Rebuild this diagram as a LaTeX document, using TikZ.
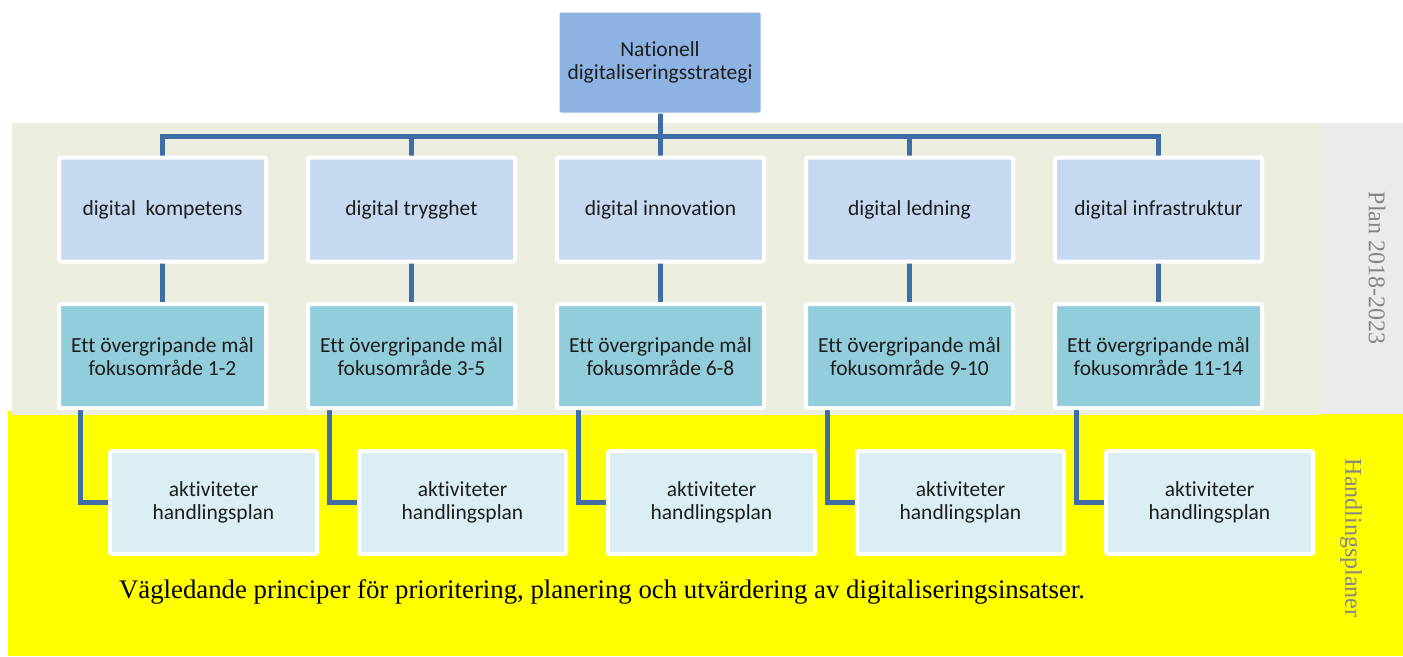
\documentclass[tikz,border=0pt]{standalone}
\usepackage{fontspec}
\setmainfont{Carlito}[RawFeature=-liga]
\newfontfamily\timesfont{Liberation Serif}
\definecolor{topc}{HTML}{8DB3E2}
\definecolor{lvtwo}{HTML}{C6D9F1}
\definecolor{lvthree}{HTML}{92CDDC}
\definecolor{lvfour}{HTML}{DAEEF3}
\definecolor{band}{HTML}{EBEEDF}
\definecolor{rband}{HTML}{EBEBEB}
\definecolor{yel}{HTML}{FFFF00}
\definecolor{conn}{HTML}{3F6DA5}
\definecolor{txt}{HTML}{1E1E1E}
\definecolor{lbl}{HTML}{858585}
\pgfdeclarelayer{bg}
\pgfdeclarelayer{cn}
\pgfsetlayers{bg,cn,main}
\begin{document}
\begin{tikzpicture}[x=1pt,y=-1pt,
  box/.style={draw=white,line width=4pt,rounded corners=2pt,inner sep=0pt,outer sep=0pt,
    minimum width=207pt,minimum height=104pt,align=center,text=txt,
    font=\fontsize{21.5}{23}\selectfont},
  topbox/.style={box,fill=topc,minimum width=202pt,minimum height=101pt,line width=1pt},
  twobox/.style={box,fill=lvtwo},
  threebox/.style={box,fill=lvthree},
  fourbox/.style={box,fill=lvfour,minimum width=207pt,minimum height=103pt},
  link/.style={draw=conn,line width=5pt},
  sidelbl/.style={rotate=-90,text=lbl,font=\timesfont\fontsize{24}{26}\selectfont}
]
\useasboundingbox (0,0) rectangle (1403,656);
\begin{pgfonlayer}{bg}
  \fill[yel] (8,411) rectangle (1403,656);
  \fill[band] (12,123) rectangle (1319,415);
  \fill[rband] (1319,123) rectangle (1403,414);
\end{pgfonlayer}

\node[topbox] (top) at (660,62.5) {Nationell\\digitaliseringsstrategi};
\coordinate (bus) at (660,136);

\node[twobox] (l2a) at (162.5,209.5) {digital~~kompetens};
\node[twobox] (l2b) at (411.5,209.5) {digital trygghet};
\node[twobox] (l2c) at (660.5,209.5) {digital innovation};
\node[twobox] (l2d) at (909.5,209.5) {digital ledning};
\node[twobox] (l2e) at (1158.5,209.5) {digital infrastruktur};

\node[threebox] (l3a) at (162.5,356) {Ett övergripande mål\\fokusområde 1-2};
\node[threebox] (l3b) at (411.5,356) {Ett övergripande mål\\fokusområde 3-5};
\node[threebox] (l3c) at (660.5,356) {Ett övergripande mål\\fokusområde 6-8};
\node[threebox] (l3d) at (909.5,356) {Ett övergripande mål\\fokusområde 9-10};
\node[threebox] (l3e) at (1158.5,356) {Ett övergripande mål\\fokusområde 11-14};

\node[fourbox] (l4a) at (213.5,502.5) {aktiviteter\\handlingsplan};
\node[fourbox] (l4b) at (462.5,502.5) {aktiviteter\\handlingsplan};
\node[fourbox] (l4c) at (711.5,502.5) {aktiviteter\\handlingsplan};
\node[fourbox] (l4d) at (960.5,502.5) {aktiviteter\\handlingsplan};
\node[fourbox] (l4e) at (1209.5,502.5) {aktiviteter\\handlingsplan};

\coordinate (ea) at (80,406);
\coordinate (eb) at (329,406);
\coordinate (ec) at (578,406);
\coordinate (ed) at (827,406);
\coordinate (ee) at (1076,406);

\begin{pgfonlayer}{cn}
  \draw[link] (top.south) -- (bus);
  \foreach \k in {a,b,c,d,e}{
    \draw[link] (l2\k.north) -- (l2\k.north |- bus) -- (bus);
    \draw[link] (l2\k.south) -- (l3\k.north);
    \draw[link] (e\k) |- (l4\k.west);
  }
\end{pgfonlayer}

\node[font=\timesfont\fontsize{26.8}{28}\selectfont,text=black] (note) at (602,592)
  {Vägledande principer för prioritering, planering och utvärdering av digitaliseringsinsatser.};
\node[sidelbl] (plan) at (1377,268) {Plan 2018-2023};
\node[sidelbl] (hand) at (1351,538) {Handlingsplaner};
\end{tikzpicture}
\end{document}
